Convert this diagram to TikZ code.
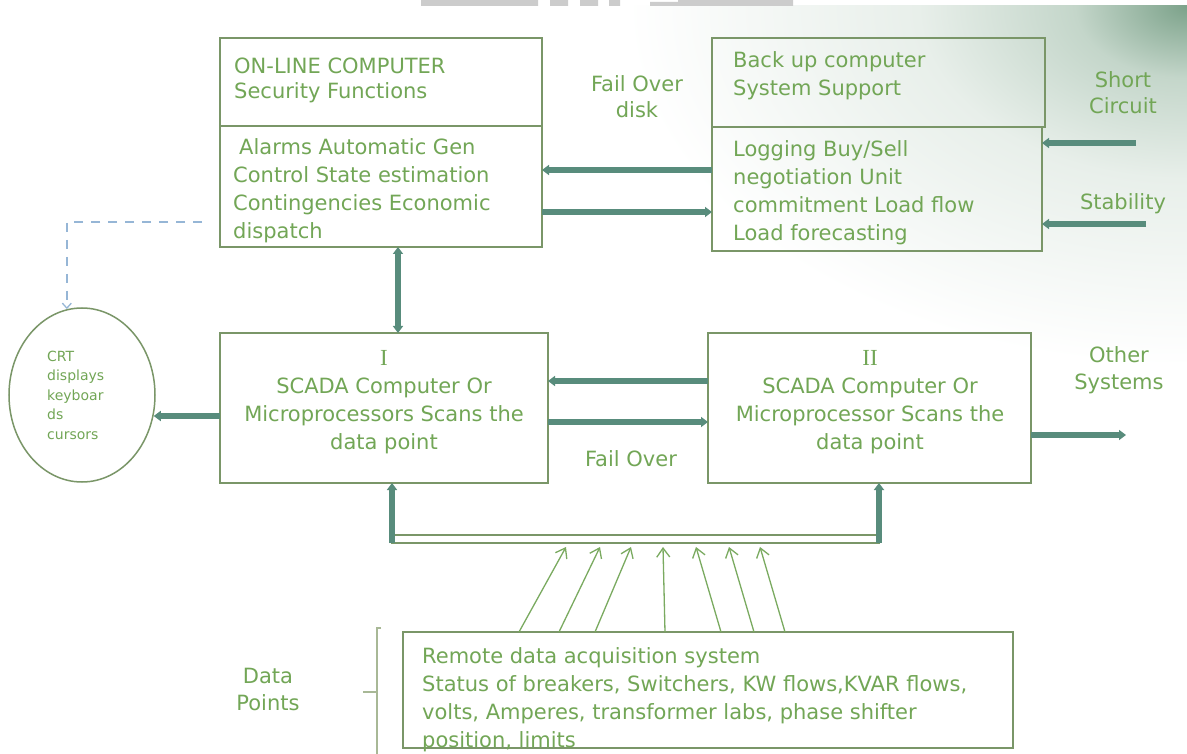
\documentclass[tikz,border=0pt]{standalone}
\usepackage{fontspec}
\setmainfont{DejaVu Sans}
\newfontfamily\numeralfont{Liberation Serif}
\usetikzlibrary{arrows.meta,calc,shapes.geometric}

\definecolor{txtgreen}{RGB}{114,166,86}
\definecolor{boxgreen}{RGB}{122,150,104}
\definecolor{flowteal}{RGB}{88,140,124}
\definecolor{linkblue}{RGB}{150,182,214}
\definecolor{thingreen}{RGB}{122,170,96}
\definecolor{bracketgray}{RGB}{168,184,150}
\definecolor{glowdark}{RGB}{124,162,138}
\definecolor{glowmid}{RGB}{196,214,202}
\definecolor{glowlight}{RGB}{232,239,234}
\definecolor{tabgray}{RGB}{204,204,204}

\pgfdeclareradialshading{cornerglow}{\pgfpoint{0bp}{0bp}}{%
  color(0bp)=(glowdark); color(5bp)=(glowmid); color(12bp)=(glowlight); color(25bp)=(white); color(50bp)=(white)}

\begin{document}
\begin{tikzpicture}[x=1pt,y=-1pt,
  panel/.style={draw=boxgreen,line width=1.8pt,inner sep=0pt,outer sep=0pt,anchor=north west},
  body/.style={text=txtgreen,inner sep=0pt,font=\fontsize{21}{24}\selectfont},
  small/.style={text=txtgreen,inner sep=0pt,font=\fontsize{14}{15}\selectfont},
  roman/.style={text=txtgreen,inner sep=0pt,font=\numeralfont\fontsize{23}{24}\selectfont},
  flow/.style={draw=flowteal,line width=5.5pt,-{Triangle[width=10pt,length=7pt]}},
  twoway/.style={draw=flowteal,line width=5.5pt,{Triangle[width=10pt,length=7pt]}-{Triangle[width=10pt,length=7pt]}},
  feed/.style={draw=thingreen,line width=1.3pt,-{Straight Barb[length=9pt,width=13pt]}},
  link/.style={draw=linkblue,line width=1.3pt,dash pattern=on 9pt off 8pt,-{Straight Barb[length=5pt,width=9pt]}},
]
\useasboundingbox (0,0) rectangle (1187,754);
\fill[white] (0,0) rectangle (1187,754);

% soft green glow in the upper right corner
\begin{scope}
  \clip (0,6) rectangle (1187,754);
  \shade[shading=cornerglow] (1187,6) ellipse [x radius=560, y radius=360];
\end{scope}

% grey strip along the top edge
\fill[tabgray] (421,0) rectangle (538,6) (550,0) rectangle (568,6)
  (580,0) rectangle (598,6) (609,0) rectangle (620,6)
  (650,2) rectangle (678,6) (678,0) rectangle (793,6);

% ---------------- boxes ----------------
\node[panel,minimum width=322,minimum height=88]  (onhead)   at (220,38)  {};
\node[panel,minimum width=322,minimum height=121] (onbody)   at (220,126) {};
\node[panel,minimum width=333,minimum height=89]  (backhead) at (712,38)  {};
\node[panel,minimum width=330,minimum height=124] (backbody) at (712,127) {};
\node[panel,minimum width=328,minimum height=150] (scadaA)   at (220,333) {};
\node[panel,minimum width=323,minimum height=150] (scadaB)   at (708,333) {};
\node[panel,minimum width=610,minimum height=116] (remote)   at (403,632) {};
\node[panel,line width=1.3pt,minimum width=487,minimum height=8] (bus) at (392,535) {};
\node[draw=boxgreen,line width=1.5pt,ellipse,minimum width=146,minimum height=174,inner sep=0pt] (crt) at (82,395) {};

% ---------------- texts ----------------
\foreach \t [count=\i from 0] in {ON-LINE COMPUTER,Security Functions}
  \node[body,anchor=base west] (ontitle\i) at (234,74+25*\i) {\t};
\node[body,anchor=base west] (online0) at (239,155) {Alarms Automatic Gen};
\foreach \t [count=\i from 1] in {Control State estimation,Contingencies Economic,dispatch}
  \node[body,anchor=base west] (online\i) at (233,155+27.7*\i) {\t};

\foreach \t [count=\i from 0] in {Back up computer,System Support}
  \node[body,anchor=base west] (backtitle\i) at (733,68+28*\i) {\t};
\foreach \t [count=\i from 0] in {Logging Buy/Sell,negotiation Unit,commitment Load flow,Load forecasting}
  \node[body,anchor=base west] (backline\i) at (733,157+27.7*\i) {\t};

\node[roman,anchor=base] (numA) at (384,365) {I};
\foreach \t [count=\i from 1] in {SCADA Computer Or,Microprocessors Scans the,data point}
  \node[body,anchor=base] (scadaAline\i) at (384,365+28*\i) {\t};
\node[roman,anchor=base] (numB) at (870,365) {II};
\foreach \t [count=\i from 1] in {SCADA Computer Or,Microprocessor Scans the,data point}
  \node[body,anchor=base] (scadaBline\i) at (870,365+28*\i) {\t};

\foreach \t [count=\i from 0] in {Remote data acquisition system,
    {Status of breakers, Switchers, KW flows,KVAR flows,},
    {volts, Amperes, transformer labs, phase shifter},
    {position, limits}}
  \node[body,anchor=base west] (remline\i) at (422,663+28.3*\i) {\t};

\foreach \t [count=\i from 0] in {CRT,displays,keyboar,ds,cursors}
  \node[small,anchor=base west] (crtline\i) at (47,361+19.6*\i) {\t};

\node[body,anchor=base] (failA) at (637,92) {Fail Over};
\node[body,anchor=base] (failB) at (637,118) {disk};
\node[body,anchor=base] (shortA) at (1123,88) {Short};
\node[body,anchor=base] (shortB) at (1123,114) {Circuit};
\node[body,anchor=base] (stab) at (1123,210) {Stability};
\node[body,anchor=base] (otherA) at (1119,362) {Other};
\node[body,anchor=base] (otherB) at (1119,389) {Systems};
\node[body,anchor=base] (failC) at (631,466) {Fail Over};
\node[body,anchor=base] (dataA) at (268,683) {Data};
\node[body,anchor=base] (dataB) at (268,710) {Points};

% ---------------- helper levels and free ends ----------------
\coordinate (yTopA) at (0,170);
\coordinate (yTopB) at (0,212);
\coordinate (yMidA) at (0,381);
\coordinate (yMidB) at (0,422);
\coordinate (yDash) at (0,222);
\coordinate (yCrt)  at (0,416);
\coordinate (yOut)  at (0,435);
\coordinate (xLink) at (398,0);
\coordinate (shortEnd) at (1136,143);
\coordinate (stabEnd)  at (1146,224);
\coordinate (otherEnd) at (1126,435);

% ---------------- thick connectors ----------------
\draw[flow] (backbody.west |- yTopA) -- (onbody.east |- yTopA);
\draw[flow] (onbody.east |- yTopB) -- (backbody.west |- yTopB);
\draw[flow] (shortEnd) -- (backbody.east |- shortEnd);
\draw[flow] (stabEnd) -- (backbody.east |- stabEnd);
\draw[twoway] (onbody.south -| xLink) -- (scadaA.north -| xLink);
\draw[flow] (scadaB.west |- yMidA) -- (scadaA.east |- yMidA);
\draw[flow] (scadaA.east |- yMidB) -- (scadaB.west |- yMidB);
\draw[flow] (scadaA.west |- yCrt) -- ([xshift=-2pt]crt.east |- yCrt);
\draw[flow] (scadaB.east |- yOut) -- (otherEnd);
\draw[flow] (bus.south west) -- (scadaA.south -| bus.west);
\draw[flow] (bus.south east) -- (scadaB.south -| bus.east);

% dashed link to the operator console
\draw[link,shorten <=18pt] (onbody.west |- yDash) -| (crt.100);

% ---------------- data point feeds ----------------
\foreach \bx/\tx [count=\i] in {519/566,559/600,595/631,665/663,721/696,754/729,785/760} {
  \coordinate (feedbase\i) at (\bx,0);
  \coordinate (feedtip\i) at (\tx,547);
  \draw[feed] (remote.north -| feedbase\i) -- (feedtip\i);
}

% bracket gathering the data points
\draw[bracketgray,line width=1.6pt] (381,628) -- (377,628) -- (377,754);
\draw[bracketgray,line width=1.6pt] (363,692) -- (377,692);
\end{tikzpicture}
\end{document}
